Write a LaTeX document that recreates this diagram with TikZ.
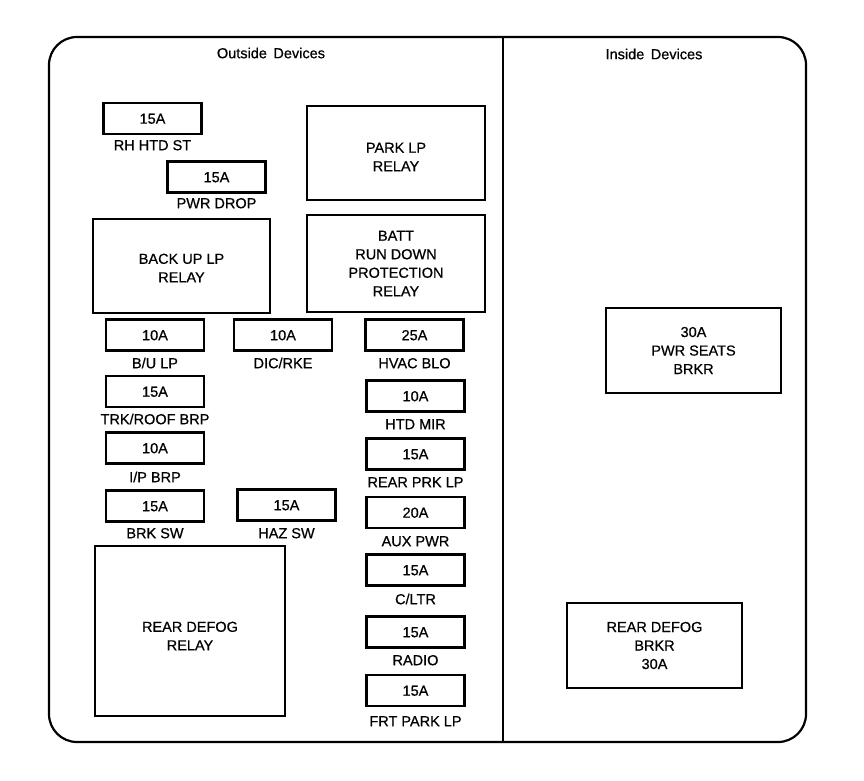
\documentclass[tikz,border=0pt]{standalone}
\usepackage{fontspec}
\setmainfont[FakeBold=0.6]{Liberation Sans}
\begin{document}
\begin{tikzpicture}[x=1pt,y=-1pt,
  every node/.style={font=\fontsize{14.5}{18.5}\selectfont, inner sep=0pt},
  box/.style={draw, line width=2.2pt, align=center},
  boxtext/.style={align=center},
  fusebox/.style={box, minimum width=98pt, minimum height=31pt, text height=10.4pt, text depth=0pt},
  lbl/.style={text height=10.4pt, text depth=0pt},
  frame/.style={line width=2.2pt}]
\useasboundingbox (0,0) rectangle (864,780);
% outer frame and divider
\draw[frame, rounded corners=28pt] (49,37) rectangle (806,742);
\coordinate (divtop) at (503,37);
\coordinate (divbot) at (503,742);
\draw[frame] (divtop) -- (divbot);
% titles
\node[lbl] (outtitle) at (271,53) {Outside\hspace{0.45em}Devices};
\node[lbl] (intitle) at (654,54) {Inside\hspace{0.45em}Devices};
% relays and breakers
\node[box, minimum width=178pt, minimum height=94pt] (parklp) at (396,153) {};
\node[boxtext] (parklpt) at (396,157) {PARK LP\\RELAY};
\node[box, minimum width=178pt, minimum height=97pt] (batt) at (396,263.5) {BATT\\RUN DOWN\\PROTECTION\\RELAY};
\node[box, minimum width=177pt, minimum height=94pt] (backup) at (181.5,266) {};
\node[boxtext] (backupt) at (181.5,268) {BACK UP LP\\RELAY};
\node[box, minimum width=190pt, minimum height=170pt] (defogrelay) at (190,631) {};
\node[boxtext] (defogrelayt) at (190,636) {REAR DEFOG\\RELAY};
\node[box, minimum width=175pt, minimum height=85pt] (pwrseats) at (693.5,350.5) {30A\\PWR SEATS\\BRKR};
\node[box, minimum width=175pt, minimum height=85pt] (defogbrkr) at (654.5,645.5) {REAR DEFOG\\BRKR\\30A};
% fuses
\node[fusebox] (rh) at (152.5,118.5) {15A};
\node[lbl] (rhl) at (152.5,145) {RH HTD ST};
\node[fusebox] (pwr) at (216.5,177) {15A};
\node[lbl] (pwrl) at (216.5,203) {PWR DROP};
\node[fusebox] (bu) at (155,335) {10A};
\node[lbl] (bul) at (155,363) {B/U LP};
\node[fusebox] (dic) at (283,335) {10A};
\node[lbl] (dicl) at (283,363) {DIC/RKE};
\node[fusebox] (hvac) at (414.5,335) {25A};
\node[lbl] (hvacl) at (414.5,363) {HVAC BLO};
\node[fusebox] (trk) at (155,391.5) {15A};
\node[lbl] (trkl) at (155,419) {TRK/ROOF BRP};
\node[fusebox] (ip) at (155,448) {10A};
\node[lbl] (ipl) at (155,477) {I/P BRP};
\node[fusebox] (brk) at (155,506) {15A};
\node[lbl] (brkl) at (155,533) {BRK SW};
\node[fusebox] (haz) at (286.5,505) {15A};
\node[lbl] (hazl) at (286.5,533) {HAZ SW};
\node[fusebox] (htd) at (415.5,396) {10A};
\node[lbl] (htdl) at (415.5,424) {HTD MIR};
\node[fusebox] (rprk) at (415.5,454) {15A};
\node[lbl] (rprkl) at (415.5,482) {REAR PRK LP};
\node[fusebox] (aux) at (415.5,512.5) {20A};
\node[lbl] (auxl) at (415.5,541) {AUX PWR};
\node[fusebox] (cltr) at (415.5,570) {15A};
\node[lbl] (cltrl) at (415.5,599) {C/LTR};
\node[fusebox] (radio) at (415.5,632) {15A};
\node[lbl] (radiol) at (415.5,660) {RADIO};
\node[fusebox] (frt) at (415.5,690.5) {15A};
\node[lbl] (frtl) at (415.5,721) {FRT PARK LP};
\end{tikzpicture}
\end{document}
